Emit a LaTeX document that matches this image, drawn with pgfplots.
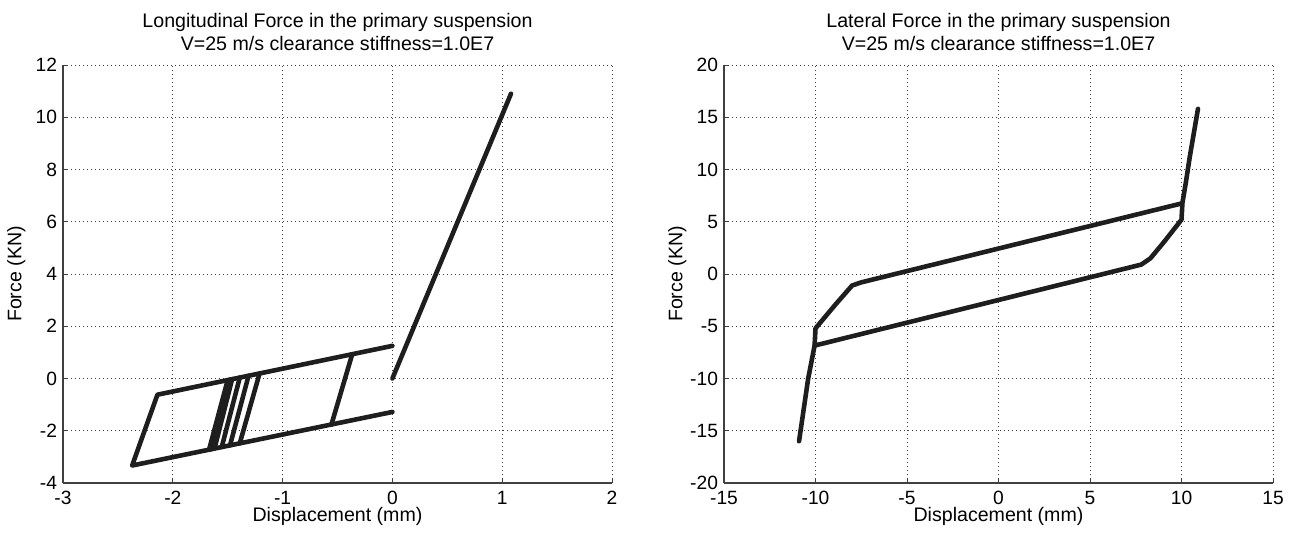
\documentclass[border=0pt]{standalone}
\usepackage{pgfplots}
\pgfplotsset{compat=1.18}
\usepackage{fontspec}
\setmainfont{Liberation Sans}
\definecolor{ink}{HTML}{1E1E1E}
\definecolor{axcol}{HTML}{404040}
\pgfplotsset{
  myline/.style={draw=ink, line width=2.3pt, line join=round, line cap=round, mark=none},
  mystyle/.style={
    width=274.5pt, height=209pt, scale only axis,
    axis x line*=bottom, axis y line*=left,
    axis line style={axcol, line width=0.6pt},
    grid=major,
    major grid style={black!75, line width=0.4pt, dash pattern=on 0.4pt off 1.6pt},
    tick align=inside, major tick length=2.5pt,
    tick style={axcol, line width=0.5pt},
    /pgf/number format/assume math mode=true,
    ticklabel style={font=\fontsize{9.6}{11}\selectfont, text=black},
    xticklabel style={yshift=-0.6pt},
    yticklabel style={xshift=0.5pt},
    label style={font=\fontsize{9.8}{11}\selectfont},
    xlabel style={at={(axis description cs:0.5,-0.081)}, anchor=center},
    ylabel style={at={(axis description cs:-0.085,0.5)}, anchor=center},
    title style={font=\fontsize{9.8}{11.3}\selectfont, align=center, at={(axis description cs:0.5,1)}, anchor=south, inner sep=0pt, yshift=1.0pt},
    xlabel={Displacement (mm)}, ylabel={Force (KN)},
  }
}
\begin{document}
\begin{tikzpicture}
\useasboundingbox (-31.5pt,-26.5pt) rectangle (615.5pt,241.5pt);
\begin{axis}[mystyle, at={(0pt,0pt)}, anchor=south west,
  xmin=-3, xmax=2, ymin=-4, ymax=12,
  xtick={-3,-2,-1,0,1,2}, ytick={-4,-2,0,2,4,6,8,10,12},
  title={Longitudinal Force in the primary suspension\\V=25 m/s clearance stiffness=1.0E7}]
\addplot[myline] coordinates {(0,1.25) (-2.14,-0.62) (-2.37,-3.33) (0,-1.28)};
\addplot[myline] coordinates {(0,0) (1.08,10.9)};
\addplot[myline] coordinates {(-0.366,0.93) (-0.555,-1.76)};
\addplot[myline] coordinates {(-1.50,-0.06) (-1.67,-2.73)};
\addplot[myline] coordinates {(-1.479,-0.04) (-1.652,-2.71)};
\addplot[myline] coordinates {(-1.46,-0.025) (-1.62,-2.68)};
\addplot[myline] coordinates {(-1.39,0.036) (-1.554,-2.62)};
\addplot[myline] coordinates {(-1.31,0.105) (-1.479,-2.56)};
\addplot[myline] coordinates {(-1.21,0.19) (-1.39,-2.48)};
\end{axis}
\begin{axis}[mystyle, at={(330.5pt,0pt)}, anchor=south west,
  xmin=-15, xmax=15, ymin=-20, ymax=20,
  xtick={-15,-10,-5,0,5,10,15}, ytick={-20,-15,-10,-5,0,5,10,15,20},
  title={Lateral Force in the primary suspension\\V=25 m/s clearance stiffness=1.0E7}]
\addplot[myline] coordinates {(-10.9,-16.0) (-10.65,-13) (-10.4,-10) (-10.2,-8.2) (-10.05,-6.85) (-10.0,-5.2) (-8.9,-2.9) (-8.0,-1.1) (-7.5,-0.8) (10.0,6.75)};
\addplot[myline] coordinates {(-10.05,-6.85) (7.8,0.9) (8.3,1.5) (9.06,3.1) (10.0,5.2) (10.05,6.8) (10.25,8.9) (10.45,11.2) (10.9,15.8)};
\end{axis}
\end{tikzpicture}
\end{document}
